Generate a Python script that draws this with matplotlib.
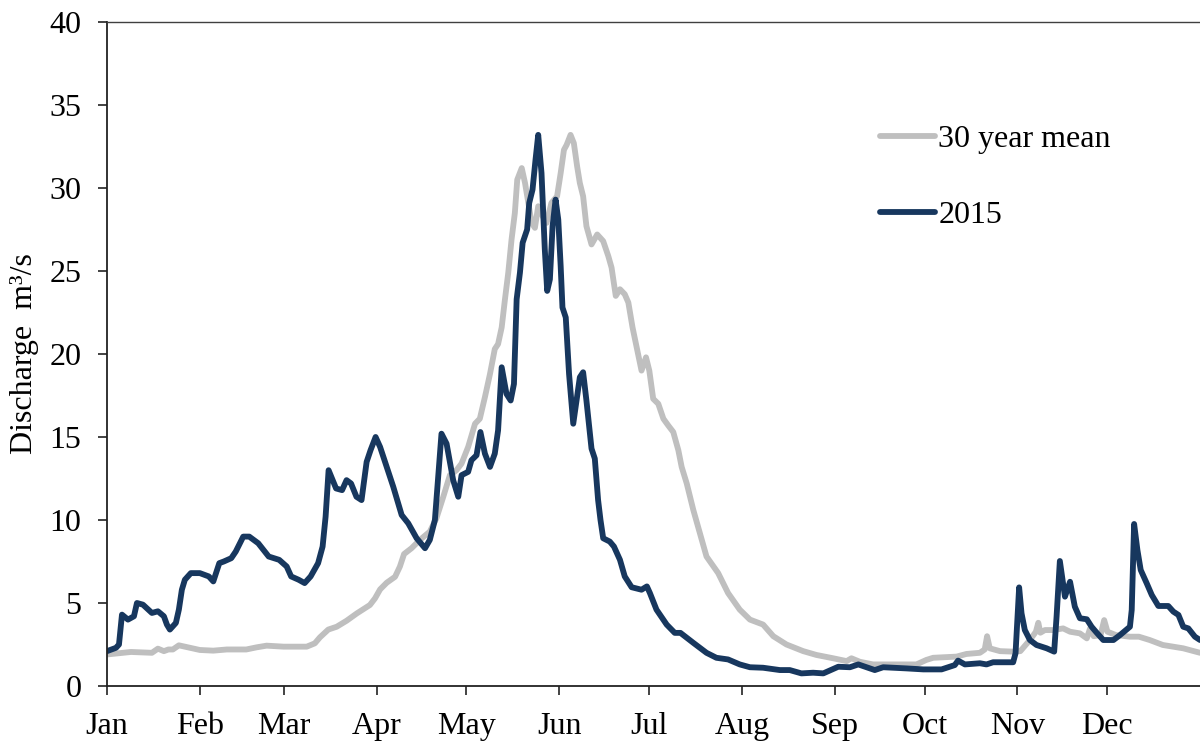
import matplotlib
matplotlib.use("Agg")
import matplotlib.pyplot as plt

# day-of-year positions and discharge values (m3/s)
days_2015 = [1, 4, 5, 6, 8, 10, 11, 13, 16, 18, 20, 21, 22, 24, 25, 26, 27, 29, 32, 35,
             36.5, 38.5, 40, 42.5, 44, 46.5, 48.5, 51.5, 55, 58.5, 61, 62.5, 65, 67, 69,
             71.5, 73, 74, 75, 77.5, 79.5, 81, 82.5, 84.3, 86, 87.7, 89, 90.7, 92.2, 94.4,
             96.6, 99.4, 101.6, 104.4, 107.2, 108.8, 110.5, 111.6, 112.7, 114.4, 116.6,
             118.3, 119.4, 121.6, 122.7, 124.4, 125.7, 127.2, 128.9, 130.5, 131.6, 132.8,
             134.4, 135.8, 136.9, 137.8, 138.9, 139.8, 141.3, 142, 143.1, 144.1, 145,
             146.1, 147.2, 148, 148.9, 149.8, 150.8, 151.7, 152.5, 153.1, 154.2, 155.3,
             156.7, 157.8, 158.9, 160, 161.1, 162.8, 163.9, 165, 165.8, 166.7, 168.9,
             170.3, 172.3, 173.9, 176.2, 179.5, 181.3, 182.3, 184.5, 187.9, 190.6, 192.5,
             196.8, 201.2, 204.5, 208.4, 212.3, 215.7, 220.1, 225.7, 229, 232.9, 236.8,
             240.2, 245.2, 249.1, 251.9, 257.4, 260.2, 268, 273.6, 279.7, 284.1, 285.2,
             287.5, 292.5, 294.7, 296.9, 303.6, 304.4, 305.6, 306.4, 307.5, 309.2, 311.4,
             314.8, 317.3, 318.1, 319.2, 320.9, 322.6, 324.2, 325.9, 328.2, 329.8, 331.5,
             333.7, 337.1, 339.3, 342.6, 343.2, 344, 345.1, 346.2, 348.2, 349.9, 352.1,
             355.4, 357.1, 358.8, 360.4, 362.1, 364.3, 366]
flow_2015 = [2.1, 2.3, 2.5, 4.3, 4.0, 4.2, 5.0, 4.9, 4.4, 4.5, 4.2, 3.7, 3.4, 3.8, 4.6, 5.8,
             6.4, 6.8, 6.8, 6.6, 6.3, 7.4, 7.5, 7.7, 8.1, 9.0, 9.0, 8.6, 7.8, 7.6, 7.2, 6.6,
             6.4, 6.2, 6.6, 7.4, 8.4, 10.2, 13.0, 11.9, 11.8, 12.4, 12.2, 11.4, 11.2, 13.5,
             14.2, 15.0, 14.4, 13.2, 12.0, 10.3, 9.8, 8.9, 8.3, 8.8, 10.0, 12.6, 15.2, 14.6,
             12.4, 11.4, 12.7, 12.9, 13.6, 13.9, 15.3, 14.0, 13.2, 14.0, 15.4, 19.2, 17.6,
             17.2, 18.2, 23.3, 24.9, 26.7, 27.5, 29.1, 29.9, 31.7, 33.2, 30.9, 26.3, 23.8,
             24.5, 27.7, 29.3, 28.1, 25.3, 22.8, 22.2, 18.8, 15.8, 17.2, 18.6, 18.9, 17.2,
             14.3, 13.7, 11.2, 10.0, 8.9, 8.7, 8.4, 7.6, 6.6, 5.95, 5.8, 6.0, 5.6, 4.6, 3.7,
             3.2, 3.2, 2.6, 2.0, 1.7, 1.6, 1.3, 1.13, 1.1, 0.96, 0.96, 0.76, 0.8, 0.76, 1.16,
             1.13, 1.3, 0.96, 1.13, 1.06, 1.0, 1.0, 1.26, 1.53, 1.3, 1.37, 1.3, 1.43, 1.43,
             1.97, 5.94, 4.38, 3.37, 2.77, 2.47, 2.27, 2.07, 4.17, 7.53, 5.38, 6.28, 4.78,
             4.08, 4.02, 3.57, 3.21, 2.77, 2.77, 3.07, 3.57, 4.58, 9.76, 8.19, 6.99, 6.19,
             5.48, 4.82, 4.82, 4.48, 4.28, 3.57, 3.47, 2.97, 2.77]

days_mean = [1, 9, 16, 18, 20, 21.5, 23, 25, 28, 32, 36.5, 41, 47.5, 51, 54.3, 60, 67.7,
             70.4, 72.1, 74.9, 77.7, 81, 84.4, 88.8, 90.5, 92.2, 94.4, 97.2, 98.8, 100.2,
             102.7, 105.5, 108.8, 111, 113.3, 115.5, 117.7, 119.4, 121.6, 123.9, 125.5,
             127.2, 128.9, 130.5, 131.6, 132.8, 133.9, 135, 136.1, 137.2, 138, 139.5,
             140.6, 141.7, 142.8, 143.9, 145, 146.5, 147.8, 149.4, 151.3, 152.5, 153.6,
             154.5, 155.8, 156.9, 158, 158.9, 160, 161.1, 162.8, 164.7, 166.7, 168.4,
             169.5, 170.9, 172.3, 173.9, 175.1, 176.5, 177.9, 179.5, 181, 182.1, 183.4,
             185.1, 186.8, 188.4, 190.1, 191.8, 192.9, 194.6, 196.8, 201.2, 205.1, 208.4,
             212.3, 215.7, 220.1, 223.5, 227.9, 233.5, 237.9, 243.5, 248, 249.6, 252.4,
             256.8, 263.5, 271.3, 274.6, 276.9, 284.7, 288, 292.5, 294.1, 294.9, 295.8,
             299.2, 303.6, 306, 309.2, 311.2, 312, 312.7, 314.2, 317, 320.3, 322.6, 325.9,
             328.2, 329.3, 330.5, 332.8, 334, 335.1, 337.9, 342.6, 345.6, 349.2, 353.6,
             360.4, 366]
flow_mean = [1.9, 2.05, 2.0, 2.25, 2.1, 2.2, 2.2, 2.45, 2.33, 2.17, 2.13, 2.2, 2.2, 2.33,
             2.43, 2.37, 2.37, 2.57, 2.93, 3.4, 3.57, 3.93, 4.37, 4.88, 5.28, 5.82, 6.22,
             6.58, 7.19, 7.95, 8.3, 8.8, 9.3, 10.1, 11.4, 12.7, 13.0, 13.4, 14.4, 15.8,
             16.1, 17.4, 18.8, 20.3, 20.6, 21.6, 23.3, 24.9, 26.9, 28.5, 30.5, 31.2, 30.3,
             29.1, 27.9, 27.6, 28.9, 28.3, 27.9, 29.1, 29.5, 30.9, 32.3, 32.6, 33.2, 32.7,
             31.3, 30.3, 29.5, 27.7, 26.6, 27.2, 26.8, 25.9, 25.2, 23.5, 23.9, 23.6, 23.1,
             21.6, 20.4, 19.0, 19.8, 19.0, 17.3, 17.0, 16.1, 15.7, 15.3, 14.2, 13.2, 12.2,
             10.6, 7.8, 6.8, 5.6, 4.6, 4.0, 3.7, 3.0, 2.5, 2.1, 1.87, 1.67, 1.5, 1.67, 1.46,
             1.3, 1.3, 1.3, 1.57, 1.7, 1.77, 1.93, 2.0, 2.2, 3.0, 2.27, 2.1, 2.07, 2.1, 2.77,
             3.27, 3.81, 3.21, 3.37, 3.37, 3.47, 3.27, 3.17, 2.87, 3.47, 3.0, 3.07, 3.97,
             3.27, 3.07, 2.97, 2.97, 2.77, 2.47, 2.27, 2.0]

month_days = [1, 32, 60, 91, 121, 152, 182, 213, 244, 274, 305, 335]
month_labels = ['Jan', 'Feb', 'Mar', 'Apr', 'May', 'Jun', 'Jul', 'Aug', 'Sep', 'Oct', 'Nov', 'Dec']

plt.rcParams['font.family'] = ['Liberation Serif', 'DejaVu Serif']
fs = 23

fig = plt.figure(figsize=(12, 7.43), dpi=100)
ax = fig.add_axes([107/1200, 57/743, 1093/1200, 664/743])

ax.plot(days_mean, flow_mean, color='#BFBFBF', lw=4.2, label='30 year mean',
        solid_joinstyle='round', solid_capstyle='round')
ax.plot(days_2015, flow_2015, color='#17375E', lw=4.2, label='2015',
        solid_joinstyle='round', solid_capstyle='round')

ax.set_xlim(1, 366)
ax.set_ylim(0, 40)
ax.set_xticks(month_days)
ax.set_xticklabels(month_labels)
ax.set_yticks(range(0, 41, 5))
ax.tick_params(direction='out', length=6.5, width=1.2, labelsize=fs, color='#222222')
ax.tick_params(axis='x', pad=12.5)
ax.tick_params(axis='y', pad=12)

ax.spines['right'].set_visible(False)
ax.spines['top'].set_color('#404040')
ax.spines['top'].set_linewidth(1.0)
for s in ['left', 'bottom']:
    ax.spines[s].set_color('#222222')
    ax.spines[s].set_linewidth(1.3)

ax.set_ylabel('Discharge  m³/s', fontsize=fs)
ax.yaxis.set_label_coords(-0.062, 0.5)

ax.legend(loc='upper left', bbox_to_anchor=(880/1200, 1 - 125/743),
          bbox_transform=fig.transFigure, frameon=False, fontsize=fs,
          handlelength=1.72, handletextpad=0.1, labelspacing=1.45,
          borderpad=0, borderaxespad=0)

fig.savefig('out.png', dpi=100)
